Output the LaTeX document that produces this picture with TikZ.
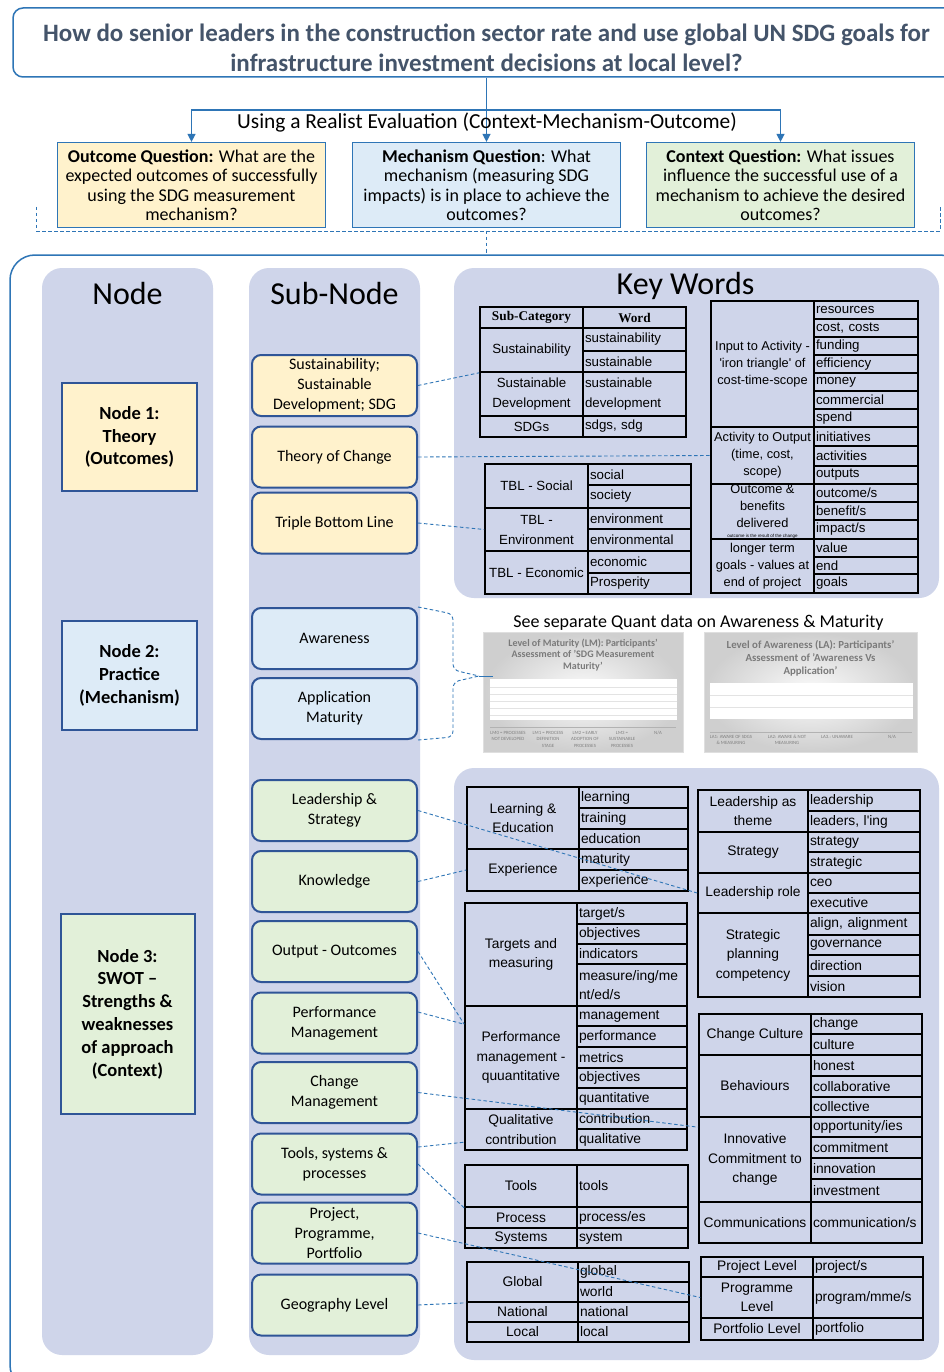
\documentclass[tikz,border=0pt]{standalone}
\usepackage{fontspec}
\setmainfont{Carlito}
\newfontfamily\arialf{Liberation Sans}
\newfontfamily\timesf{Liberation Serif}
\usetikzlibrary{arrows.meta}

\definecolor{lav}{HTML}{CFD5EA}
\definecolor{frameblue}{HTML}{2E75B6}
\definecolor{boxblue}{HTML}{2F5597}
\definecolor{titlegray}{HTML}{44546A}
\definecolor{paleyellow}{HTML}{FFF2CC}
\definecolor{paleblue}{HTML}{DDEBF7}
\definecolor{palegreen}{HTML}{E2F0D9}

% 表のセル: [style]{name}{x1}{y1}{x2}{y2}{text}
\newcommand{\kwcell}[7][]{%
  \pgfmathsetmacro{\kwW}{#5-#3}%
  \pgfmathsetmacro{\kwH}{#6-#4}%
  \pgfmathsetmacro{\kwT}{#5-#3-4}%
  \node[kwframe,minimum width=\kwW pt,minimum height=\kwH pt,#1] (#2) at ({(#3+#5)/2},{(#4+#6)/2}) {#7};}

\tikzset{
  titlebox/.style={draw=frameblue, line width=1.5pt, rounded corners=10pt, text=titlegray,
    font=\bfseries\fontsize{25}{30}\selectfont, align=center},
  qbox/.style={draw=frameblue, line width=1.2pt, align=center, inner sep=0pt,
    font=\fontsize{18}{19.5}\selectfont, minimum width=268pt, minimum height=85pt},
  nodebox/.style={draw=boxblue, line width=2pt, align=center, inner sep=0pt,
    font=\bfseries\fontsize{18.5}{22.8}\selectfont, minimum width=135pt},
  subbox/.style={draw=boxblue, line width=2pt, rounded corners=9pt, align=center, inner sep=0pt,
    font=\fontsize{16}{19.8}\selectfont, minimum width=165pt, minimum height=61pt},
  heading/.style={font=\fontsize{32}{36}\selectfont, anchor=base},
  panel/.style={fill=lav, rounded corners=20pt},
  arrowline/.style={frameblue, line width=1.3pt},
  dashconn/.style={frameblue, line width=0.9pt, dash pattern=on 3.5pt off 2.5pt},
  kwframe/.style={draw, line width=1.6pt, inner sep=0pt, align=center,
    font=\arialf\fontsize{13.3}{20}\selectfont},
  kwword/.style={align=left, text width=\kwT pt, inner xsep=2pt},
  kwhead/.style={font=\timesf\bfseries\fontsize{13.3}{16}\selectfont},
  kwsmall/.style={font=\arialf\fontsize{12.8}{17}\selectfont},
  chartbg/.style={shade, inner color=gray!3, outer color=gray!38, draw=gray!25, line width=0.5pt, inner sep=0pt},
  charttitle/.style={text=black!52, align=center, font=\bfseries\fontsize{10}{11.5}\selectfont},
  chartlabel/.style={text=black!50, align=center, anchor=north, inner sep=0pt, font=\fontsize{4.8}{6.5}\selectfont},
  chartgrid/.style={gray!22, line width=0.8pt},
  chartaxis/.style={gray!60, line width=1pt}
}

\begin{document}
\begin{tikzpicture}[x=1pt,y=-1pt]
  \useasboundingbox (0,0) rectangle (944,1372);
  \clip (0,0) rectangle (944,1372);
  \fill[white] (0,0) rectangle (944,1372);

  % タイトル
  \node[titlebox, minimum width=947pt, minimum height=69pt] (title) at (486.5,42.5)
    {\rule{0pt}{28pt}How do senior leaders in the construction sector rate and use global UN SDG goals for\\infrastructure investment decisions at local level?};

  % 質問ボックス
  \node[qbox, fill=paleyellow] (qOutcome) at (191.5,185)
    {\textbf{Outcome Question:} What are the\\expected outcomes of successfully\\using the SDG measurement\\mechanism?};
  \node[qbox, fill=paleblue] (qMechanism) at (486.5,185)
    {\textbf{Mechanism Question}: What\\mechanism (measuring SDG\\impacts) is in place to achieve the\\outcomes?};
  \node[qbox, fill=palegreen] (qContext) at (780.5,185)
    {\textbf{Context Question:} What issues\\influence the successful use of a\\mechanism to achieve the desired\\outcomes?};

  % 分岐の矢印
  \coordinate (fork) at (486.5,110);
  \draw[arrowline] (title.south) -- (fork);
  \draw[arrowline, -{Triangle[length=8pt,width=8pt]}] (fork) -| (qOutcome.north);
  \draw[arrowline, -{Triangle[length=8pt,width=8pt]}] (fork) -- (qMechanism.north);
  \draw[arrowline, -{Triangle[length=8pt,width=8pt]}] (fork) -| (qContext.north);
  \node[font=\fontsize{21.4}{24}\selectfont] (realist) at (487,122.5) {Using a Realist Evaluation (Context-Mechanism-Outcome)};

  % 点線の括弧
  \coordinate (bracketMid) at (486.5,231);
  \coordinate (frameTop) at (486.5,255);
  \draw[dashconn] (36,207) -- (36,231) -- (940,231) -- (940,207);
  \draw[dashconn] (bracketMid) -- (frameTop);

  % 外枠
  \draw[frameblue, line width=1.5pt, rounded corners=25pt] (10,255) rectangle (965,1390);

  % 列の背景
  \fill[panel] (42,268) rectangle (213,1355);
  \fill[panel] (249,268) rectangle (420,1355);
  \fill[panel] (454,268) rectangle (939,598);
  \fill[panel] (454,768) rectangle (939,1360);

  % 見出し
  \node[heading] (hdNode) at (127.5,304) {Node};
  \node[heading] (hdSub) at (334.5,304) {Sub-Node};
  \node[heading] (hdKey) at (685.5,294) {Key Words};

  % ノード
  \node[nodebox, fill=paleyellow, minimum height=108pt] (nodeOne) at (129.5,437) {Node 1:\\Theory\\(Outcomes)};
  \node[nodebox, fill=paleblue, minimum height=109pt] (nodeTwo) at (129.5,675.5) {Node 2:\\Practice\\(Mechanism)};
  \node[nodebox, fill=palegreen, minimum height=200pt, minimum width=134pt] (nodeThree) at (127.5,1014)
    {Node 3:\\SWOT --\\Strengths \&\\weaknesses\\of approach\\(Context)};

  % サブノード
  \node[subbox, fill=paleyellow] (subSust) at (334.5,385.5) {Sustainability;\\Sustainable\\Development; SDG};
  \node[subbox, fill=paleyellow] (subToC) at (334.5,457) {Theory of Change};
  \node[subbox, fill=paleyellow] (subTBL) at (334.5,523) {Triple Bottom Line};
  \node[subbox, fill=paleblue] (subAware) at (334.5,638.5) {Awareness};
  \node[subbox, fill=paleblue] (subApp) at (334.5,708.5) {Application\\Maturity};
  \node[subbox, fill=palegreen] (subLead) at (334.5,810.5) {Leadership \&\\Strategy};
  \node[subbox, fill=palegreen] (subKnow) at (334.5,881.5) {Knowledge};
  \node[subbox, fill=palegreen] (subOutput) at (334.5,951.5) {Output - Outcomes};
  \node[subbox, fill=palegreen] (subPerf) at (334.5,1023) {Performance\\Management};
  \node[subbox, fill=palegreen] (subChange) at (334.5,1092.5) {Change\\Management};
  \node[subbox, fill=palegreen] (subTools) at (334.5,1164) {Tools, systems \&\\processes};
  \node[subbox, fill=palegreen] (subProject) at (334.5,1233) {Project,\\Programme,\\Portfolio};
  \node[subbox, fill=palegreen] (subGeo) at (334.5,1305) {Geography Level};

  % キーワード表（上）
  \kwcell[kwhead]{hSubCat}{480}{307}{583}{328}{Sub-Category}
  \kwcell[kwhead]{hWord}{583}{307}{686}{328}{Word}
  \kwcell{kwSust}{480}{328}{583}{372}{Sustainability}
  \kwcell[kwword]{wSust1}{583}{328}{686}{351}{sustainability}
  \kwcell[kwword]{wSust2}{583}{351}{686}{372}{sustainable}
  \kwcell{kwSusDev}{480}{372}{583}{416}{Sustainable\\Development}
  \kwcell[kwword]{wSusDev}{583}{372}{686}{416}{sustainable\\development}
  \kwcell{kwSDG}{480}{416}{583}{437}{SDGs}
  \kwcell[kwword]{wSDG}{583}{416}{686}{437}{sdgs, sdg}

  \kwcell{kwSocial}{485}{464}{588}{508}{TBL - Social}
  \kwcell[kwword]{wSocial1}{588}{464}{691}{485}{social}
  \kwcell[kwword]{wSocial2}{588}{485}{691}{508}{society}
  \kwcell{kwEnv}{485}{508}{588}{551}{TBL -\\Environment}
  \kwcell[kwword]{wEnv1}{588}{508}{691}{529}{environment}
  \kwcell[kwword]{wEnv2}{588}{529}{691}{551}{environmental}
  \kwcell{kwEcon}{485}{551}{588}{594}{TBL - Economic}
  \kwcell[kwword]{wEcon1}{588}{551}{691}{573}{economic}
  \kwcell[kwword]{wEcon2}{588}{573}{691}{594}{Prosperity}

  \kwcell[kwsmall]{kwInput}{711}{301}{814}{427}{Input to Activity -\\'iron triangle' of\\cost-time-scope}
  \kwcell[kwword]{wIn1}{814}{301}{918}{319}{resources}
  \kwcell[kwword]{wIn2}{814}{319}{918}{337}{cost, costs}
  \kwcell[kwword]{wIn3}{814}{337}{918}{355}{funding}
  \kwcell[kwword]{wIn4}{814}{355}{918}{373}{efficiency}
  \kwcell[kwword]{wIn5}{814}{373}{918}{391}{money}
  \kwcell[kwword]{wIn6}{814}{391}{918}{409}{commercial}
  \kwcell[kwword]{wIn7}{814}{409}{918}{427}{spend}
  \kwcell[kwsmall]{kwActOut}{711}{427}{814}{484}{Activity to Output\\(time, cost,\\scope)}
  \kwcell[kwword]{wAct1}{814}{427}{918}{446}{initiatives}
  \kwcell[kwword]{wAct2}{814}{446}{918}{466}{activities}
  \kwcell[kwword]{wAct3}{814}{466}{918}{484}{outputs}
  \kwcell[kwsmall]{kwOutcome}{711}{484}{814}{539}{Outcome \&\\benefits\\delivered\rule[-11pt]{0pt}{11pt}}
  \kwcell[kwword]{wOut1}{814}{484}{918}{502}{outcome/s}
  \kwcell[kwword]{wOut2}{814}{502}{918}{520}{benefit/s}
  \kwcell[kwword]{wOut3}{814}{520}{918}{539}{impact/s}
  \kwcell[kwsmall]{kwLonger}{711}{539}{814}{593}{longer term\\goals - values at\\end of project}
  \kwcell[kwword]{wLong1}{814}{539}{918}{557}{value}
  \kwcell[kwword]{wLong2}{814}{557}{918}{574}{end}
  \kwcell[kwword]{wLong3}{814}{574}{918}{593}{goals}
  \node[font=\arialf\fontsize{4.5}{5}\selectfont] (outcomeNote) at (762.5,536) {outcome is the result of the change};

  % グラフの縮小図
  \node[chartbg, minimum width=200pt, minimum height=120pt] (chartLM) at (583,692) {};
  \node[chartbg, minimum width=213pt, minimum height=120pt] (chartLA) at (810.5,692) {};
  \node[font=\fontsize{18}{20}\selectfont] (quantNote) at (698.5,623) {See separate Quant data on Awareness \& Maturity};
  \node[charttitle] (lmTitle) at (583,655) {Level of Maturity (LM): Participants'\\Assessment of 'SDG Measurement\\Maturity'};
  \node[charttitle, font=\bfseries\fontsize{10.8}{13}\selectfont] (laTitle) at (810.5,658) {Level of Awareness (LA): Participants'\\Assessment of 'Awareness Vs\\Application'};
  \fill[white] (490,679) rectangle (677,720);
  \draw[chartgrid] (490,687) -- (677,687);
  \draw[chartgrid] (490,694) -- (677,694);
  \draw[chartgrid] (490,701) -- (677,701);
  \draw[chartgrid] (490,708) -- (677,708);
  \draw[chartgrid] (490,715) -- (677,715);
  \draw[chartaxis] (490,727) -- (676,727);
  \node[chartlabel] (lm0) at (508,731) {LM0 = PROCESSES\\NOT DEVELOPED};
  \node[chartlabel] (lm1) at (548,731) {LM1 = PROCESS\\DEFINITION\\STAGE};
  \node[chartlabel] (lm2) at (585,731) {LM2 = EARLY\\ADOPTION OF\\PROCESSES};
  \node[chartlabel] (lm3) at (622,731) {LM3 =\\SUSTAINABLE\\PROCESSES};
  \node[chartlabel] (lmNA) at (658,731) {N/A};
  \fill[white] (710,683) rectangle (913,719);
  \draw[chartgrid] (710,695) -- (913,695);
  \draw[chartgrid] (710,707) -- (913,707);
  \draw[chartaxis] (710,732) -- (912,732);
  \node[chartlabel] (la1) at (731,735) {LA1: AWARE OF SDGS\\\& MEASURING};
  \node[chartlabel] (la2) at (787,735) {LA2: AWARE \& NOT\\MEASURING};
  \node[chartlabel] (la3) at (837,735) {LA3.: UNAWARE};
  \node[chartlabel] (laNA) at (892,735) {N/A};

  % キーワード表（下）は少し大きな文字
  \tikzset{kwframe/.append style={font=\arialf\fontsize{13.8}{19.5}\selectfont}}

  % キーワード表（下・左）
  \kwcell{kwLearn}{467}{787}{579}{849}{Learning \&\\Education}
  \kwcell[kwword]{wLearn1}{579}{787}{688}{808}{learning}
  \kwcell[kwword]{wLearn2}{579}{808}{688}{829}{training}
  \kwcell[kwword]{wLearn3}{579}{829}{688}{849}{education}
  \kwcell{kwExp}{467}{849}{579}{891}{Experience}
  \kwcell[kwword]{wExp1}{579}{849}{688}{870}{maturity}
  \kwcell[kwword]{wExp2}{579}{870}{688}{891}{experience}

  \kwcell{kwTarget}{465}{903}{577}{1006}{Targets and\\measuring}
  \kwcell[kwword]{wTar1}{577}{903}{687}{924}{target/s}
  \kwcell[kwword]{wTar2}{577}{924}{687}{944}{objectives}
  \kwcell[kwword]{wTar3}{577}{944}{687}{964}{indicators}
  \kwcell[kwword]{wTar4}{577}{964}{687}{1006}{measure/ing/me\\nt/ed/s}
  \kwcell{kwPerf}{465}{1006}{577}{1109}{Performance\\management -\\quuantitative}
  \kwcell[kwword]{wPerf1}{577}{1006}{687}{1026}{management}
  \kwcell[kwword]{wPerf2}{577}{1026}{687}{1047}{performance}
  \kwcell[kwword]{wPerf3}{577}{1047}{687}{1068}{metrics}
  \kwcell[kwword]{wPerf4}{577}{1068}{687}{1088}{objectives}
  \kwcell[kwword]{wPerf5}{577}{1088}{687}{1109}{quantitative}
  \kwcell{kwQual}{465}{1109}{577}{1150}{Qualitative\\contribution}
  \kwcell[kwword]{wQual1}{577}{1109}{687}{1129}{contribution}
  \kwcell[kwword]{wQual2}{577}{1129}{687}{1150}{qualitative}

  \kwcell{kwTools}{465}{1165}{577}{1207}{Tools}
  \kwcell[kwword]{wTools}{577}{1165}{688}{1207}{tools}
  \kwcell{kwProcess}{465}{1207}{577}{1228}{Process}
  \kwcell[kwword]{wProcess}{577}{1207}{688}{1228}{process/es}
  \kwcell{kwSystems}{465}{1228}{577}{1248}{Systems}
  \kwcell[kwword]{wSystems}{577}{1228}{688}{1248}{system}

  \kwcell{kwGlobal}{467}{1262}{578}{1302}{Global}
  \kwcell[kwword]{wGlob1}{578}{1262}{689}{1282}{global}
  \kwcell[kwword]{wGlob2}{578}{1282}{689}{1302}{world}
  \kwcell{kwNational}{467}{1302}{578}{1322}{National}
  \kwcell[kwword]{wNational}{578}{1302}{689}{1322}{national}
  \kwcell{kwLocal}{467}{1322}{578}{1342}{Local}
  \kwcell[kwword]{wLocal}{578}{1322}{689}{1342}{local}

  % キーワード表（下・右）
  \kwcell{kwLeadTheme}{698}{790}{808}{832}{Leadership as\\theme}
  \kwcell[kwword]{wLead1}{808}{790}{920}{811}{leadership}
  \kwcell[kwword]{wLead2}{808}{811}{920}{832}{leaders, l'ing}
  \kwcell{kwStrategy}{698}{832}{808}{873}{Strategy}
  \kwcell[kwword]{wStrat1}{808}{832}{920}{852}{strategy}
  \kwcell[kwword]{wStrat2}{808}{852}{920}{873}{strategic}
  \kwcell{kwLeadRole}{698}{873}{808}{913}{Leadership role}
  \kwcell[kwword]{wRole1}{808}{873}{920}{893}{ceo}
  \kwcell[kwword]{wRole2}{808}{893}{920}{913}{executive}
  \kwcell{kwStratPlan}{698}{913}{808}{997}{Strategic\\planning\\competency}
  \kwcell[kwword]{wPlan1}{808}{913}{920}{935}{align, alignment}
  \kwcell[kwword]{wPlan2}{808}{935}{920}{955}{governance}
  \kwcell[kwword]{wPlan3}{808}{955}{920}{976}{direction}
  \kwcell[kwword]{wPlan4}{808}{976}{920}{997}{vision}

  \kwcell{kwChangeCult}{699}{1014}{811}{1055}{Change Culture}
  \kwcell[kwword]{wCult1}{811}{1014}{922}{1034}{change}
  \kwcell[kwword]{wCult2}{811}{1034}{922}{1055}{culture}
  \kwcell{kwBehav}{699}{1055}{811}{1117}{Behaviours}
  \kwcell[kwword]{wBeh1}{811}{1055}{922}{1076}{honest}
  \kwcell[kwword]{wBeh2}{811}{1076}{922}{1097}{collaborative}
  \kwcell[kwword]{wBeh3}{811}{1097}{922}{1117}{collective}
  \kwcell{kwInnov}{699}{1117}{811}{1202}{Innovative\\Commitment to\\change}
  \kwcell[kwword]{wInn1}{811}{1117}{922}{1137}{opportunity/ies}
  \kwcell[kwword]{wInn2}{811}{1137}{922}{1158}{commitment}
  \kwcell[kwword]{wInn3}{811}{1158}{922}{1179}{innovation}
  \kwcell[kwword]{wInn4}{811}{1179}{922}{1202}{investment}
  \kwcell{kwComms}{699}{1202}{811}{1243}{Communications}
  \kwcell[kwword]{wComms}{811}{1202}{922}{1243}{communication/s}

  \kwcell{kwProjLevel}{701}{1257}{813}{1277}{Project Level}
  \kwcell[kwword]{wProj}{813}{1257}{923}{1277}{project/s}
  \kwcell{kwProgLevel}{701}{1277}{813}{1318}{Programme\\Level}
  \kwcell[kwword]{wProg}{813}{1277}{923}{1318}{program/mme/s}
  \kwcell{kwPortLevel}{701}{1318}{813}{1340}{Portfolio Level}
  \kwcell[kwword]{wPort}{813}{1318}{923}{1340}{portfolio}

  % 点線の接続
  \draw[dashconn] (subSust.east) -- (kwSust.south west);
  \draw[dashconn] (subToC.east) -- (kwActOut.west);
  \draw[dashconn] (subTBL.east) -- (kwEnv.west);
  \draw[dashconn] (subLead.east) -- (kwLeadRole.west);
  \draw[dashconn] (subKnow.east) -- (kwExp.west);
  \coordinate (perfIn) at ([yshift=-19pt]kwPerf.north west);
  \draw[dashconn] (subOutput.east) -- (perfIn);
  \draw[dashconn] ([yshift=11pt]subPerf.east) -- (perfIn);
  \coordinate (innovIn) at ([yshift=-11pt]kwInnov.north west);
  \draw[dashconn] (subChange.east) -- (innovIn);
  \draw[dashconn] ([yshift=17pt]subTools.east) -- ([yshift=-34pt]kwQual.north west);
  \draw[dashconn] (subTools.east) -- (kwTools.south west);
  \draw[dashconn] (subProject.east) -- (kwProgLevel.west);
  \draw[dashconn] (subGeo.east) -- (kwGlobal.south west);

  % 括弧からグラフへ
  \coordinate (braceTip) at (479,676);
  \coordinate (chartIn) at (493,676);
  \draw[dashconn, rounded corners=6pt] (subAware.north east) -- (453,614) -- (453,670) -- (braceTip);
  \draw[dashconn, rounded corners=6pt] (subApp.south east) -- (453,737) -- (453,682) -- (braceTip);
  \draw[frameblue, line width=1pt] (braceTip) -- (chartIn);
\end{tikzpicture}
\end{document}
